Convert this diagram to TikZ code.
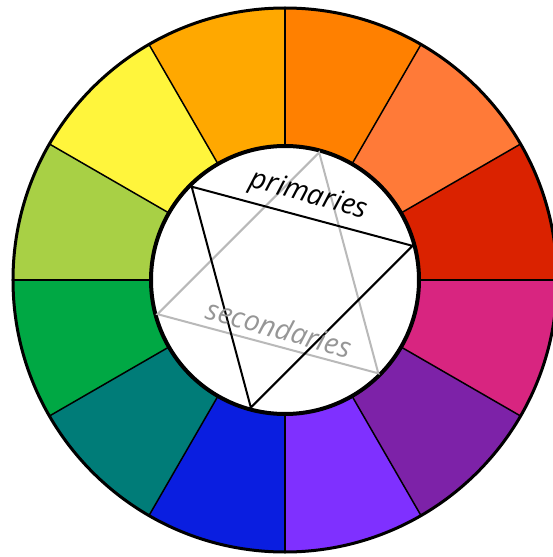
\documentclass[tikz,border=0pt]{standalone}
\usepackage{fontspec}
\newfontfamily\wheelfont{Open Sans}
\usetikzlibrary{positioning}
\definecolor{hueRed}{RGB}{218,34,0}
\definecolor{hueCoral}{RGB}{255,122,56}
\definecolor{hueOrange}{RGB}{255,128,0}
\definecolor{hueAmber}{RGB}{255,168,0}
\definecolor{hueYellow}{RGB}{255,245,60}
\definecolor{hueLime}{RGB}{168,208,69}
\definecolor{hueGreen}{RGB}{0,168,68}
\definecolor{hueTeal}{RGB}{0,124,120}
\definecolor{hueBlue}{RGB}{10,30,224}
\definecolor{hueViolet}{RGB}{127,48,255}
\definecolor{huePurple}{RGB}{125,34,168}
\definecolor{hueMagenta}{RGB}{216,37,128}
\definecolor{secGray}{RGB}{185,185,185}
\definecolor{secText}{RGB}{150,150,150}

\begin{document}
\begin{tikzpicture}[x=1pt, y=1pt,
    every node/.style={font=\wheelfont\itshape\fontsize{28.5}{28}\selectfont, inner sep=0pt},
    divider/.style={line width=1.5pt},
    primline/.style={line width=2pt, black},
    secline/.style={line width=2pt, secGray}]
\clip (-285,-277) rectangle (268,280);
\fill[white] (-285,-277) rectangle (268,280);
% colour segments
\foreach \a/\c in {0/hueRed, 30/hueCoral, 60/hueOrange, 90/hueAmber, 120/hueYellow, 150/hueLime,
                   180/hueGreen, 210/hueTeal, 240/hueBlue, 270/hueViolet, 300/huePurple, 330/hueMagenta}
  \fill[\c] (\a:134) -- (\a:272) arc[start angle=\a, end angle={\a+30}, radius=272]
            -- ({\a+30}:134) arc[start angle={\a+30}, end angle=\a, radius=134] -- cycle;
\foreach \a in {0,30,...,330}
  \draw[divider] (\a:134) -- (\a:272);
\draw[line width=3pt] (0,0) circle (272);
\draw[line width=4pt, fill=white] (0,0) circle (134);
% triangle corners
\coordinate (red) at (15:132);
\coordinate (yellow) at (135:132);
\coordinate (blue) at (255:132);
\coordinate (orange) at (75:132);
\coordinate (green) at (195:132);
\coordinate (purple) at (315:132);
\draw[secline] (orange) -- (green) -- (purple) -- cycle;
\draw[primline] (red) -- (yellow) -- (blue) -- cycle;
\node[rotate=-15.6] (primLabel) at (23.5,84) {primaries};
\node[rotate=-15.6, text=secText] (secLabel) at (-6,-48) {secondaries};
\end{tikzpicture}
\end{document}
